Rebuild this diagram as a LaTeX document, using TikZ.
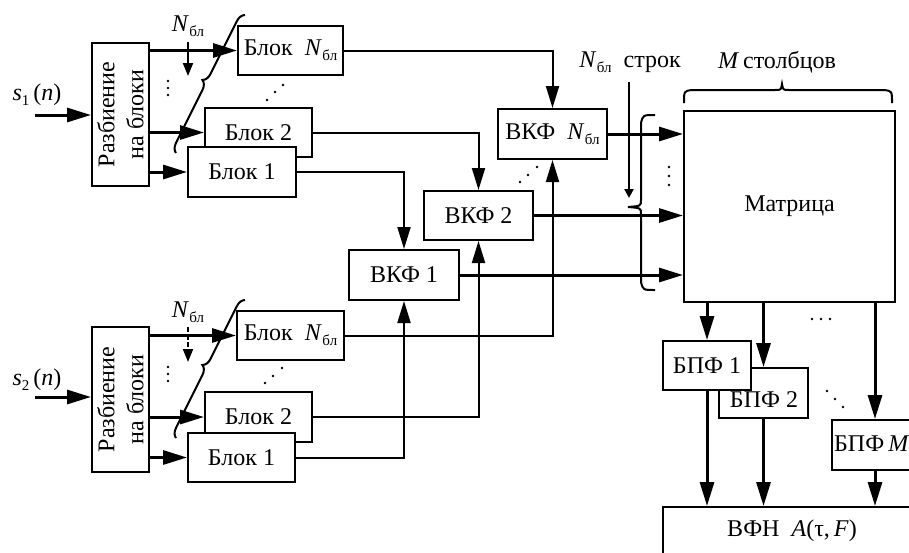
\documentclass[tikz,border=0pt]{standalone}
\usepackage{fontspec}
\setmainfont{Liberation Serif}
\usetikzlibrary{arrows.meta,decorations.pathreplacing}
\newcommand\Nb{\textit{N}\kern0.5pt\raisebox{-0.45ex}{\fontsize{15}{15}\selectfont бл}}
\newcommand\sub[1]{\raisebox{-0.45ex}{\fontsize{15}{15}\selectfont #1}}
\begin{document}
\begin{tikzpicture}[x=1pt,y=-1pt,
  box/.style={draw, line width=2pt, fill=white, inner sep=0pt, font=\fontsize{24}{28}\selectfont},
  cline/.style={line width=2pt},
  arr/.style={line width=3pt, -{Triangle[length=24pt,width=14pt]}},
  arrt/.style={line width=2pt, -{Triangle[length=22pt,width=13pt]}},
  arrs/.style={line width=2pt, -{Triangle[length=13pt,width=10pt]}},
  lbl/.style={font=\fontsize{24}{28}\selectfont, inner sep=0pt},
  dot/.style={fill, circle, inner sep=0pt, minimum size=2.6pt},
  brc/.style={line width=2pt, decorate, decoration={brace, amplitude=9pt}}
]
\useasboundingbox (0,0) rectangle (909,552);
\fill[white] (0,0) rectangle (909,552);
\clip (0,0) rectangle (909,552);

% ---------- upper input ----------
\node[box, minimum width=57pt, minimum height=143pt, anchor=north west] (sp1) at (91,42) {};
\node[lbl, rotate=90, align=center] at (sp1.center) {Разбиение\\[1pt]на блоки};
\node[box, minimum width=105pt, minimum height=49pt, anchor=north west] (bN1) at (237,25) {Блок\enspace\Nb};
\node[box, minimum width=107pt, minimum height=49pt, anchor=north west] (b21) at (204,107) {Блок 2};
\node[box, minimum width=108pt, minimum height=50pt, anchor=north west] (b11) at (187,146) {Блок 1};

\node[lbl] (s1) at (37,95) {\textit{s}\sub{1}\,(\textit{n})};
\coordinate (in1) at (35,115);
\draw[arr] (in1) -- (sp1.west |- in1);
\draw[arr] (sp1.east |- bN1.west) -- (bN1.west);
\draw[arr] (sp1.east |- b21.west) -- (b21.west);
\draw[arr] (sp1.east |- b11.west) -- (b11.west);

\node[lbl] (nl1) at (188,26) {\Nb};
\coordinate (na1) at (188,42);
\coordinate (nb1) at (188,76);
\draw[arrs] (na1) -- (nb1);
\coordinate (br1a) at (176,153);
\coordinate (br1b) at (245,15);
\draw[brc] (br1a) -- (br1b);

\foreach \y in {81,88,95} \node[dot] at (168,\y) {};
\node[dot] at (267,100) {};
\node[dot] at (275,92) {};
\node[dot] at (283,85) {};

% ---------- lower input ----------
\node[box, minimum width=57pt, minimum height=145pt, anchor=north west] (sp2) at (91,326) {};
\node[lbl, rotate=90, align=center] at (sp2.center) {Разбиение\\[1pt]на блоки};
\node[box, minimum width=107pt, minimum height=49pt, anchor=north west] (bN2) at (236,310) {Блок\enspace\Nb};
\node[box, minimum width=107pt, minimum height=50pt, anchor=north west] (b22) at (204,391) {Блок 2};
\node[box, minimum width=107pt, minimum height=49pt, anchor=north west] (b12) at (187,432) {Блок 1};

\node[lbl] (s2) at (37,380) {\textit{s}\sub{2}\,(\textit{n})};
\coordinate (in2) at (35,397);
\draw[arr] (in2) -- (sp2.west |- in2);
\draw[arr] (sp2.east |- bN2.west) -- (bN2.west);
\draw[arr] (sp2.east |- b22.west) -- (b22.west);
\draw[arr] (sp2.east |- b12.west) -- (b12.west);

\node[lbl] (nl2) at (188,312) {\Nb};
\coordinate (na2) at (188,327);
\coordinate (nb2) at (188,362);
\draw[arrs, dash pattern=on 5pt off 2.5pt] (na2) -- (nb2);
\coordinate (br2a) at (176,438);
\coordinate (br2b) at (245,300);
\draw[brc] (br2a) -- (br2b);

\foreach \y in {367,374,381} \node[dot] at (168,\y) {};
\node[dot] at (265,383) {};
\node[dot] at (273,376) {};
\node[dot] at (282,368) {};

% ---------- correlators ----------
\node[box, minimum width=109pt, minimum height=50pt, anchor=north west] (vN) at (497,108) {ВКФ\enspace\Nb};
\node[box, minimum width=109pt, minimum height=49pt, anchor=north west] (v2) at (423,190) {ВКФ 2};
\node[box, minimum width=110pt, minimum height=50pt, anchor=north west] (v1) at (348,249) {ВКФ 1};

\draw[arrt] (bN1.east) -| (vN.north);
\draw[arrt] (b21.east) -| (v2.north);
\draw[arrt] (b11.east) -| (v1.north);
\draw[arrt] (bN2.east) -| (vN.south);
\draw[arrt] (b22.east) -| (v2.south);
\draw[arrt] (b12.east) -| (v1.south);

\node[dot] at (520,182) {};
\node[dot] at (528,175) {};
\node[dot] at (537,167) {};

% ---------- matrix ----------
\node[box, minimum width=211pt, minimum height=191pt, anchor=north west] (mat) at (683,110) {Матрица};
\draw[arr] (vN.east) -- (vN.east -| mat.west);
\draw[arr] (v2.east) -- (v2.east -| mat.west);
\draw[arr] (v1.east) -- (v1.east -| mat.west);

\foreach \y in {167,176,185} \node[dot] at (669,\y) {};

\node[lbl] (rows) at (630,62) {\Nb\enspace строк};
\coordinate (ra) at (629,82);
\coordinate (rb) at (629,198);
\draw[line width=2.5pt, -{Triangle[length=9pt,width=9pt]}] (ra) -- (rb);
\draw[line width=2pt] (655,115) .. controls (643,115) .. (641,123) -- (641,200)
  .. controls (641,206) .. (628,207) .. controls (641,208) .. (641,214) -- (641,282)
  .. controls (643,290) .. (655,290);

\node[lbl] (cols) at (777,62) {\textit{M}\,столбцов};
\draw[line width=2pt] (684,103) .. controls (684,91) .. (692,90) -- (775,90)
  .. controls (781,90) .. (782,84) .. controls (783,90) .. (789,90) -- (884,90)
  .. controls (892,91) .. (892,103);

% ---------- FFT ----------
\node[box, minimum width=89pt, minimum height=50pt, anchor=north west] (f2) at (718,367) {};
\node[lbl] (f2t) at (764,400) {БПФ 2};
\node[box, minimum width=88pt, minimum height=49pt, anchor=north west] (f1) at (662,340) {БПФ 1};
\node[box, minimum width=86pt, minimum height=50pt, anchor=north west] (fM) at (831,419) {};
\node[lbl, anchor=west] (fMt) at (834,444) {БПФ\,\textit{M}};
\node[box, minimum width=260pt, minimum height=54pt, anchor=north west] (out) at (662,506) {};
\node[lbl] (outt) at (792,531) {ВФН\enspace\textit{A}(τ,\,\textit{F})};

\draw[arr] (mat.south -| f1.north) -- (f1.north);
\draw[arr] (mat.south -| f2.north) -- (f2.north);
\draw[arr] (mat.south -| fM.north) -- (fM.north);
\draw[arr] (f1.south) -- (f1.south |- out.north);
\draw[arr] (f2.south) -- (f2.south |- out.north);
\draw[arr] (fM.south) -- (fM.south |- out.north);

\foreach \x in {812,821,830} \node[dot] at (\x,319) {};
\node[dot] at (827,391) {};
\node[dot] at (835,399) {};
\node[dot] at (843,407) {};
\end{tikzpicture}
\end{document}
